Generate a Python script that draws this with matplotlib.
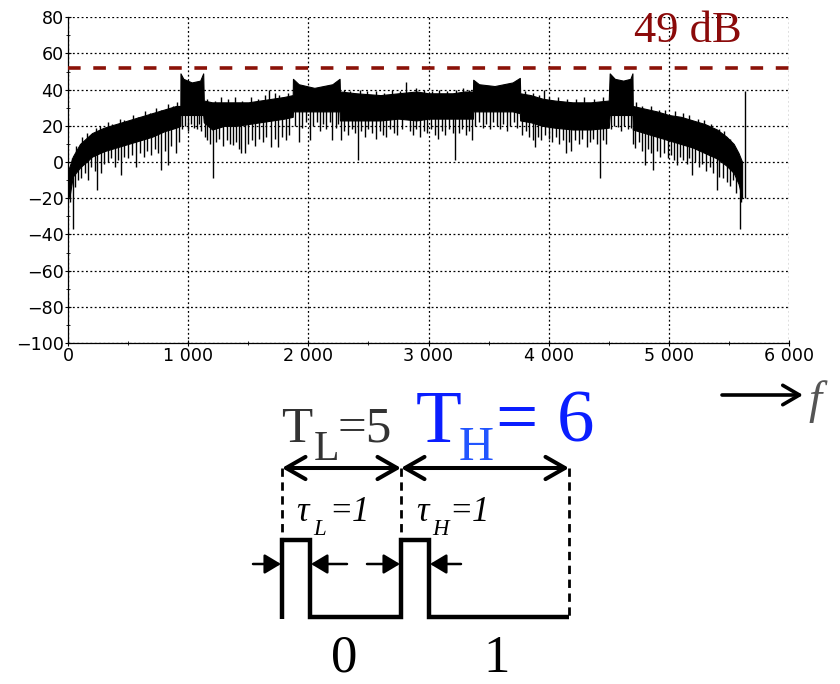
import numpy as np
import matplotlib
matplotlib.use("Agg")
import matplotlib.pyplot as plt
from matplotlib.ticker import MultipleLocator, FuncFormatter

# Spectrum envelope: frequency knots with the upper edge and the lower edge of the dense band (dB)
freq = [0, 15, 40, 100, 200, 300, 400, 500, 600, 700, 800, 900, 935,
        936, 960, 1030, 1100, 1125, 1130, 1200, 1300, 1400, 1500, 1600, 1700,
        1800, 1870, 1872, 1920, 2050, 2200, 2260, 2263, 2400, 2600, 2750, 2900,
        3000, 3100, 3200, 3300, 3370, 3372, 3420, 3550, 3700, 3760, 3763, 3850,
        3950, 4050, 4200, 4350, 4500, 4508, 4550, 4620, 4680, 4697, 4700, 4800,
        4900, 5000, 5100, 5200, 5300, 5400, 5480, 5540, 5580, 5610]
upper = [-5, -2, 3, 10, 16, 19, 21, 23, 25, 27, 29, 31, 31,
         49, 46, 44, 45, 49, 34, 33, 33, 33, 33, 34, 35,
         36, 37, 46, 43, 41, 43, 46, 39, 38, 37, 38, 39,
         38, 38, 38, 39, 39, 45.5, 43, 42, 44, 46.5, 38, 37,
         35, 34, 33, 33, 34, 49, 46, 45, 46, 49, 31, 29.5,
         28, 26, 25, 23, 21, 18, 14, 10, 5, 0]
lower = [-20, -18, -8, -3, 3, 6, 8, 10, 12, 14, 17, 19, 20,
         26, 26, 26, 26, 26, 22, 18, 20, 20, 21, 22, 23,
         24, 25, 28, 28, 28, 28, 28, 23, 23, 23, 24, 23,
         24, 24, 24, 24, 24, 28, 28, 28, 28, 27, 23, 22,
         20, 19, 18, 18, 19, 26, 26, 26, 26, 26, 18, 16,
         14, 12, 10, 8, 5, 2, -2, -6, -12, -20]

# Notches reaching below the dense band
dip_freq = [20, 45, 60, 80, 110, 140, 170, 195, 225, 244, 277, 300, 330, 360, 390,
            420, 444, 470, 500, 530, 569, 600, 630, 660, 690, 720, 750, 777, 805,
            832, 860, 896, 920,
            950, 975, 1000, 1020, 1050, 1075, 1090, 1110,
            1140, 1160, 1180, 1207, 1230, 1260, 1290, 1320, 1345, 1373, 1400, 1420,
            1443, 1476, 1500, 1530, 1560, 1590, 1620, 1650, 1692, 1720, 1748, 1780,
            1810, 1840,
            1890, 1920, 1950, 1980, 2011, 2040, 2070, 2094, 2120, 2150, 2180, 2200,
            2230, 2250,
            2275, 2300, 2330, 2360, 2390, 2413, 2440, 2470, 2500, 2530, 2566, 2600,
            2620, 2649, 2680, 2710, 2740, 2780, 2850, 2871, 2900, 2930, 2960, 2990,
            3020, 3050, 3081, 3110, 3140, 3170, 3200, 3220, 3250, 3280, 3310, 3340,
            3358,
            3390, 3420, 3450, 3480, 3510, 3540, 3570, 3594, 3620, 3650, 3680, 3710,
            3740,
            3780, 3810, 3840, 3870, 3885, 3910, 3940, 3970, 4000, 4030, 4060, 4090,
            4120, 4148, 4170, 4190, 4220, 4250, 4280, 4315, 4340, 4370, 4400, 4426,
            4450, 4480,
            4520, 4545, 4579, 4600, 4630, 4660, 4685,
            4704, 4720, 4750, 4775, 4801, 4830, 4850, 4871, 4900, 4930, 4960, 4990,
            5020, 5040, 5065, 5090, 5120, 5150, 5170, 5190, 5220, 5250, 5280, 5310,
            5340, 5370, 5398, 5420, 5450, 5480, 5510, 5537, 5560, 5591, 5600]
dip_db = [-22, -37, -14, -10, -9, -6, -10, -3, -5, -15.5, -6, -1, 0, 2, -3,
          1, -7, 3, 2, 4, -2.6, 5, 3, 6, 4, 7, 5, -4.4, 6,
          -1.7, 9, 5, 11,
          18, 20, 17, 21, 19, 18, 21, 17,
          14, 12, 10, -9, 11, 13, 9, 12, 10, 9.4, 11, 7,
          5, 5, 10, 12, 9, 13, 11, 14, 8.5, 13, 8.5, 14,
          12, 15,
          20, 11, 19, 22, 12, 20, 22, 17, 21, 18, 22, 12,
          19, 21,
          12, 17, 15, 18, 16, 1, 17, 14, 18, 16, 13, 17,
          15, 14, 18, 16, 15, 18, 17, 15, 18, 14, 17, 16,
          18, 15, 13, 17, 15, 18, 16, 1, 16, 18, 15, 17,
          12,
          20, 22, 19, 21, 18, 22, 20, 18, 21, 17, 20, 22,
          19,
          15, 17, 14, 12, 8.5, 14, 12, 15, 13, 11, 14, 10,
          12, 5, 11, 6, 12, 10, 13, 8.5, 11, 13, 10, -9,
          12, 10,
          18, 20, 19.6, 17, 20, 18, 19,
          10, 8, 11, 6, -1.7, 7, 5, -4.4, 6, 3, 5, 2,
          4, 1, -1.7, 3, 1, -1, 2, -7, 0, -3, -1, -5,
          -3, -6, -15.5, -8, -9, -11, -13, -10, -17, -37, -22]

# Ragged tips along the top of the band
tip_freq = [30, 70, 120, 160, 230, 270, 330, 370, 430, 470, 540, 580, 640, 680,
            730, 770, 830, 870, 910,
            1160, 1220, 1270, 1330, 1390, 1450, 1520, 1580, 1640, 1720, 1760, 1830,
            2300, 2350, 2430, 2490, 2560, 2630, 2700, 2760, 2900, 2960, 3030, 3090,
            3150, 3230, 3290, 3340,
            3800, 3870, 3920, 4000, 4080, 4150, 4230, 4290, 4380, 4450,
            4730, 4780, 4850, 4920, 4970, 5050, 5120, 5170, 5240, 5290, 5350, 5420,
            5460, 5510]
tip_db = [2, 9, 14, 16, 19, 20, 22, 21, 24, 23, 26, 25, 28, 27,
          30, 29, 32, 31, 33,
          35, 34, 36, 35, 36, 34, 36, 35, 37, 38, 37, 38,
          40, 39, 40, 39, 39, 38, 40, 39, 41, 40, 39, 40,
          39, 40, 41, 40,
          39, 38, 37, 36, 36, 35, 35, 36, 35, 36,
          33, 31, 31, 29, 29, 28, 27, 26, 24, 23, 21, 18,
          17, 13]

# Narrow lines standing above the band
spike_freq = [1673, 2816, 3958, 5630]
spike_db = [40, 44.5, 40, 39]

peak_db = 49
ref_db = 52

x_ticks = [0, 1000, 2000, 3000, 4000, 5000, 6000]
y_ticks = [-100, -80, -60, -40, -20, 0, 20, 40, 60, 80]

W, H = 840, 684
fig = plt.figure(figsize=(W / 100, H / 100), dpi=100)

ax = fig.add_axes([68 / W, 1 - 343 / H, (789 - 68) / W, (343 - 17.3) / H])
ax.set_xlim(0, 6000)
ax.set_ylim(-100, 80)
ax.set_xticks(x_ticks)
ax.set_yticks(y_ticks)
ax.xaxis.set_minor_locator(MultipleLocator(500))
ax.yaxis.set_minor_locator(MultipleLocator(10))
ax.xaxis.set_major_formatter(FuncFormatter(lambda v, p: f"{int(v):,}".replace(",", " ")))
ax.yaxis.set_major_formatter(FuncFormatter(lambda v, p: f"{int(v)}".replace("-", "\u2212")))
ax.tick_params(axis="both", which="major", labelsize=12.6, length=4, width=0.8,
               direction="inout", pad=1, colors="black")
ax.tick_params(axis="both", which="minor", length=2.5, width=0.6, direction="inout")
ax.grid(True, which="major", color="black", linestyle=(0, (1.5, 2)), linewidth=0.9)
for side in ("top", "right"):
    ax.spines[side].set_visible(False)
ax.spines["left"].set_linewidth(0.9)
ax.spines["bottom"].set_linewidth(0.9)
ax.set_axisbelow(True)

fa = np.array(freq, dtype=float)
ua = np.array(upper, dtype=float)
la = np.array(lower, dtype=float)
ax.fill_between(fa, la, ua, color="black", linewidth=0.8, zorder=3)
ax.vlines(dip_freq, dip_db, np.interp(dip_freq, fa, la) + 1, color="black",
          linewidth=1.0, zorder=3)
ax.vlines(tip_freq, np.interp(tip_freq, fa, ua) - 1, tip_db, color="black",
          linewidth=1.0, zorder=3)
ax.vlines(spike_freq, np.interp(spike_freq, fa, la), spike_db, color="black",
          linewidth=1.0, zorder=3)
ax.axhline(ref_db, color="#8b1208", linewidth=2.6, dashes=(3.5, 3.5), zorder=4)

# Annotation layer in figure pixel coordinates
ov = fig.add_axes([0, 0, 1, 1], zorder=5)
ov.set_xlim(0, W)
ov.set_ylim(H, 0)
ov.axis("off")

SERIF = "Liberation Serif"


def put(x, y, s, size, color="black", style="normal"):
    ov.text(x, y, s, fontsize=size, color=color, family=SERIF, style=style,
            ha="left", va="baseline")


put(634, 42, f"{peak_db} dB", 32, color="#8b0a0a")

# frequency axis arrow
ov.annotate("", xy=(803, 395), xytext=(722, 395),
            arrowprops=dict(arrowstyle="->,head_length=0.6,head_width=0.35", lw=2.6,
                            color="black", shrinkA=0, shrinkB=0, mutation_scale=20))
put(808, 413, "f", 34, color="#555555", style="italic")

# period labels
put(281, 442, "T", 36.7, color="#333333")
put(314, 460, "L", 30, color="#333333")
put(338, 442, "=5", 36.7, color="#333333")
put(416, 442, "T", 54, color="#0a1eff")
put(459, 460, "H", 35, color="#2255ff")
put(496, 442, "= 6", 54, color="#0a1eff")

# period arrows
arrow2 = dict(arrowstyle="<->,head_length=0.7,head_width=0.4", lw=2.9, color="black",
              shrinkA=0, shrinkB=0, mutation_scale=20)
ov.annotate("", xy=(401, 468), xytext=(282, 468), arrowprops=arrow2)
ov.annotate("", xy=(569, 468), xytext=(401, 468), arrowprops=arrow2)

# dashed guides
dash = dict(color="black", linewidth=2.0, dashes=(3, 2))
ov.plot([282, 282], [468, 540], **dash)
ov.plot([401, 401], [468, 540], **dash)
ov.plot([569, 569], [468, 617], **dash)

# pulse train
px = [282, 282, 310, 310, 401, 401, 429, 429, 569]
py = [619, 540, 540, 617, 617, 540, 540, 617, 617]
ov.plot(px, py, color="black", linewidth=3.2, solid_joinstyle="miter", solid_capstyle="butt")

# pulse width arrows
arrow1 = dict(arrowstyle="-|>,head_length=0.5,head_width=0.3", lw=1.8, color="black",
              shrinkA=0, shrinkB=0, mutation_scale=20)
ov.annotate("", xy=(281, 564), xytext=(253, 564), arrowprops=arrow1)
ov.annotate("", xy=(311, 564), xytext=(347, 564), arrowprops=arrow1)
ov.annotate("", xy=(400, 564), xytext=(367, 564), arrowprops=arrow1)
ov.annotate("", xy=(430, 564), xytext=(461, 564), arrowprops=arrow1)

# pulse width labels
put(296, 521, "\u03c4", 25, style="italic")
put(313, 535, "L", 16.5, style="italic")
put(331, 521, "=", 25)
put(352, 521, "1", 25, style="italic")
put(416, 521, "\u03c4", 25, style="italic")
put(432, 535, "H", 16.5, style="italic")
put(451, 521, "=", 25)
put(472, 521, "1", 25, style="italic")

# bit values
ov.text(344, 672, "0", fontsize=38, family=SERIF, ha="center", va="baseline")
ov.text(497, 672, "1", fontsize=38, family=SERIF, ha="center", va="baseline")

fig.savefig("out.png", dpi=100)
